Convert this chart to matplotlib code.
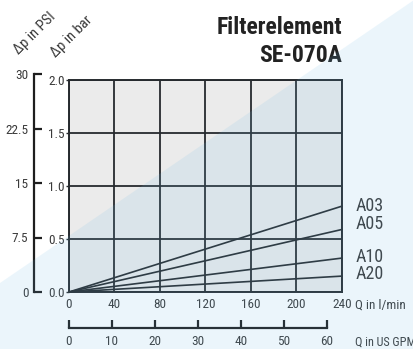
import matplotlib.pyplot as plt
from matplotlib import font_manager
from matplotlib.patches import Polygon

# Flow in l/min and pressure drop in bar
flow_lpm = [0, 240]
series_names = ['A03', 'A05', 'A10', 'A20']
dp_bar = {'A03': [0, 0.81],
          'A05': [0, 0.59],
          'A10': [0, 0.32],
          'A20': [0, 0.15]}
label_pos_bar = [0.81, 0.645, 0.33, 0.17]

lpm_ticks = [0, 40, 80, 120, 160, 200, 240]
bar_ticks = [0.0, 0.5, 1.0, 1.5, 2.0]
psi_ticks = [0, 7.5, 15, 22.5, 30]
psi_labels = ['0', '7.5', '15', '22.5', '30']
gpm_ticks = [0, 10, 20, 30, 40, 50, 60]

# narrow sans if there is one, Arial-like otherwise
installed = {f.name for f in font_manager.fontManager.ttflist}
font = 'Liberation Sans'
for cand in ['Liberation Sans Narrow', 'Roboto Condensed', 'Open Sans Condensed']:
    if cand in installed:
        font = cand
        break
plt.rcParams['font.family'] = [font, 'DejaVu Sans']

line_col = '#262a2e'
text_col = '#3a3a3a'
tick_fs = 9.5

W, H = 414, 349
fig = plt.figure(figsize=(W / 100, H / 100), dpi=100)


def fx(px):
    return px / W


def fy(py):
    return 1 - py / H


# main chart, bar scale
ax = fig.add_axes([fx(69), fy(292), fx(342) - fx(69), fy(80) - fy(292)])
ax.set_facecolor('#ebebeb')
ax.set_xlim(0, 240)
ax.set_ylim(0, 2)
ax.set_xticks(lpm_ticks)
ax.set_yticks(bar_ticks)
ax.set_yticklabels(['%.1f' % t for t in bar_ticks])
ax.grid(True, color=line_col, linewidth=1.3)
for s in ax.spines.values():
    s.set_color(line_col)
    s.set_linewidth(1.4)
ax.tick_params(axis='y', length=2, width=1, color=line_col, pad=1,
               labelsize=tick_fs, labelcolor=text_col)
ax.tick_params(axis='x', length=0, pad=4, labelsize=tick_fs,
               labelcolor=text_col)

for name, ypos in zip(series_names, label_pos_bar):
    ax.plot(flow_lpm, dp_bar[name], color=line_col, linewidth=1.2,
            clip_on=False)
    ax.annotate(name, xy=(240, ypos), xytext=(9.5, 0),
                textcoords='offset points', va='center', ha='left',
                fontsize=13, color=text_col, annotation_clip=False)

fig.text(fx(355), fy(305), 'Q in l/min', va='center', ha='left',
         fontsize=9.5, color=text_col)

# PSI scale on the left
ax_psi = fig.add_axes([fx(34), fy(292), 0.001, fy(74) - fy(292)])
ax_psi.set_ylim(0, 30)
ax_psi.set_xticks([])
ax_psi.set_yticks(psi_ticks)
ax_psi.set_yticklabels(psi_labels)
ax_psi.patch.set_visible(False)
for k in ['right', 'top', 'bottom']:
    ax_psi.spines[k].set_visible(False)
ax_psi.spines['left'].set_color('#1e1e1e')
ax_psi.spines['left'].set_linewidth(1.6)
ax_psi.tick_params(axis='y', direction='in', length=6, width=1.6,
                   color='#1e1e1e', pad=4, labelsize=tick_fs,
                   labelcolor=text_col)

# US GPM scale below
ax_gpm = fig.add_axes([fx(69), fy(328), fx(327) - fx(69), 0.001])
ax_gpm.set_xlim(0, 60)
ax_gpm.set_yticks([])
ax_gpm.set_xticks(gpm_ticks)
ax_gpm.patch.set_visible(False)
for k in ['left', 'right', 'top']:
    ax_gpm.spines[k].set_visible(False)
ax_gpm.spines['bottom'].set_color('#1e1e1e')
ax_gpm.spines['bottom'].set_linewidth(1.6)
ax_gpm.tick_params(axis='x', direction='in', length=6, width=1.6,
                   color='#1e1e1e', pad=5, labelsize=tick_fs,
                   labelcolor=text_col)
fig.text(fx(355), fy(342), 'Q in US GPM', va='center', ha='left',
         fontsize=8.8, color=text_col)

# axis titles and heading
fig.text(fx(35), fy(33), '\u0394p in PSI', rotation=45, ha='center',
         va='center', fontsize=10.5, color=text_col, rotation_mode='anchor')
fig.text(fx(72), fy(37), '\u0394p in bar', rotation=45, ha='center',
         va='center', fontsize=10.5, color=text_col, rotation_mode='anchor')
fig.text(fx(342), fy(27), 'Filterelement', ha='right', va='center',
         fontsize=17, fontweight='bold', color='#222222')
fig.text(fx(342), fy(56), 'SE-070A', ha='right', va='center',
         fontsize=17, fontweight='bold', color='#222222')

# pale blue diagonal wash over the lower right
wash = Polygon([(fx(414), fy(0)), (fx(0), fy(283)), (fx(0), fy(349)),
                (fx(414), fy(349))], closed=True, transform=fig.transFigure,
               facecolor='#6ab8e6', alpha=0.13, edgecolor='none', zorder=10)
fig.patches.append(wash)

fig.savefig('out.png', dpi=100)
